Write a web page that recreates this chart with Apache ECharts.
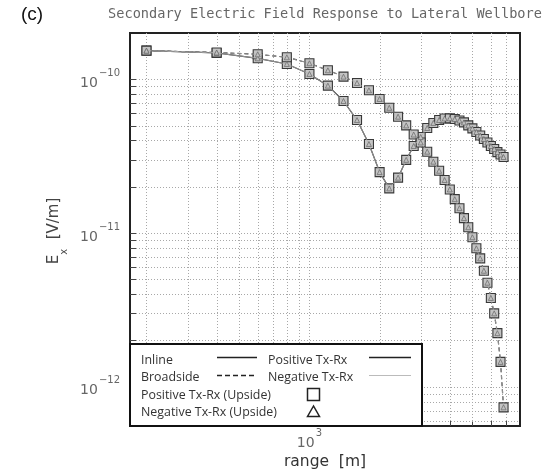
<!DOCTYPE html>
<html>
<head>
<meta charset="utf-8">
<title>Secondary Electric Field Response to Lateral Wellbore</title>
<script src="https://cdn.jsdelivr.net/npm/echarts@6.0.0/dist/echarts.min.js"></script>
<style>
  html, body { margin: 0; padding: 0; background: #fff; }
  #chart { width: 547px; height: 474px; }
</style>
</head>
<body>
<div id="chart"></div>
<script>
// Transmitter-receiver offset (m)
const rangeM = [200, 400, 600, 800, 1000, 1200, 1400, 1600, 1800, 2000,
  2200, 2400, 2600, 2800, 3000, 3200, 3400, 3600, 3800, 4000,
  4200, 4400, 4600, 4800, 5000, 5200, 5400, 5600, 5800, 6000,
  6200, 6400, 6600, 6800];

// Secondary Ex (V/m), inline configuration
const inlinePositive = [1.535e-10, 1.483e-10, 1.369e-10, 1.257e-10, 1.083e-10, 9.09e-11, 7.22e-11, 5.43e-11, 3.79e-11, 2.49e-11,
  1.95e-11, 2.29e-11, 2.99e-11, 3.68e-11, 4.21e-11, 4.82e-11, 5.20e-11, 5.43e-11, 5.56e-11, 5.57e-11,
  5.51e-11, 5.39e-11, 5.24e-11, 5.01e-11, 4.79e-11, 4.54e-11, 4.31e-11, 4.09e-11, 3.88e-11, 3.68e-11,
  3.52e-11, 3.36e-11, 3.24e-11, 3.12e-11];
const inlineNegative = [1.535e-10, 1.483e-10, 1.369e-10, 1.257e-10, 1.083e-10, 9.09e-11, 7.22e-11, 5.43e-11, 3.79e-11, 2.49e-11,
  1.95e-11, 2.29e-11, 2.99e-11, 3.68e-11, 4.21e-11, 4.82e-11, 5.20e-11, 5.43e-11, 5.56e-11, 5.57e-11,
  5.51e-11, 5.39e-11, 5.24e-11, 5.01e-11, 4.79e-11, 4.54e-11, 4.31e-11, 4.09e-11, 3.88e-11, 3.68e-11,
  3.52e-11, 3.36e-11, 3.24e-11, 3.12e-11];

// Secondary Ex (V/m), broadside configuration
const broadsidePositive = [1.535e-10, 1.494e-10, 1.454e-10, 1.390e-10, 1.271e-10, 1.144e-10, 1.040e-10, 9.46e-11, 8.48e-11, 7.44e-11,
  6.52e-11, 5.71e-11, 5.01e-11, 4.37e-11, 3.88e-11, 3.38e-11, 2.91e-11, 2.54e-11, 2.21e-11, 1.92e-11,
  1.66e-11, 1.45e-11, 1.25e-11, 1.09e-11, 9.38e-12, 7.95e-12, 6.84e-12, 5.68e-12, 4.75e-12, 3.78e-12,
  3.00e-12, 2.23e-12, 1.45e-12, 7.34e-13];
const broadsideNegative = [1.535e-10, 1.494e-10, 1.454e-10, 1.390e-10, 1.271e-10, 1.144e-10, 1.040e-10, 9.46e-11, 8.48e-11, 7.44e-11,
  6.52e-11, 5.71e-11, 5.01e-11, 4.37e-11, 3.88e-11, 3.38e-11, 2.91e-11, 2.54e-11, 2.21e-11, 1.92e-11,
  1.66e-11, 1.45e-11, 1.25e-11, 1.09e-11, 9.38e-12, 7.95e-12, 6.84e-12, 5.68e-12, 4.75e-12, 3.78e-12,
  3.00e-12, 2.23e-12, 1.45e-12, 7.34e-13];

// Log-decade grid positions
const gridX = [200, 300, 400, 500, 600, 700, 800, 900, 1000, 2000, 3000, 4000, 5000, 6000, 7000];
const gridY = [1e-10, 9e-11, 8e-11, 7e-11, 6e-11, 5e-11, 4e-11, 3e-11, 2e-11,
  1e-11, 9e-12, 8e-12, 7e-12, 6e-12, 5e-12, 4e-12, 3e-12, 2e-12,
  1e-12, 9e-13, 8e-13, 7e-13, 6e-13];

const X_MIN = 170, X_MAX = 8000;
const Y_MIN = 5.55e-13, Y_MAX = 2e-10;

const pair = (xs, ys) => xs.map((x, i) => [x, ys[i]]);
const px = v => Math.round(v) + 0.5;

function powLabel(v) {
  const e = Math.log10(v);
  const r = Math.round(e);
  if (Math.abs(e - r) > 1e-6) return '';
  return '{b|10}{s|' + (r < 0 ? '\u2212' + (-r) : r) + '}';
}

const labelRich = {
  b: { fontFamily: 'DejaVu Sans', fontSize: 14, color: '#666', lineHeight: 22, verticalAlign: 'bottom' },
  s: { fontFamily: 'DejaVu Sans', fontSize: 10, color: '#666', lineHeight: 22, verticalAlign: 'top', padding: [0, 0, 0, 1] }
};

const chart = echarts.init(document.getElementById('chart'), null, { renderer: 'canvas' });

const markerSquare = {
  symbol: 'rect', symbolSize: 9,
  itemStyle: { color: '#c4c4c4', borderColor: '#383838', borderWidth: 1.1 }
};
const markerTriangle = {
  symbol: 'triangle', symbolSize: 5,
  itemStyle: { color: '#c0c0c0', borderColor: '#666', borderWidth: 0.7 }
};

const legendFont = '12.4px "Open Sans"';
const legendText = (x, y, text) => ({
  type: 'text', x: x, y: y, z: 21,
  style: { text: text, font: legendFont, fill: '#333', verticalAlign: 'middle' }
});
const legendLine = (x1, x2, y, stroke, width, dash) => ({
  type: 'line', z: 21, shape: { x1: x1, y1: y, x2: x2, y2: y },
  style: { stroke: stroke, lineWidth: width, lineDash: dash || null }
});

chart.setOption({
  animation: false,
  backgroundColor: '#fff',
  grid: {
    left: 130, top: 33, right: 27, bottom: 48,
    show: true, borderColor: '#222', borderWidth: 2, backgroundColor: 'transparent'
  },
  xAxis: {
    type: 'log', logBase: 10, min: X_MIN, max: X_MAX,
    axisLine: { show: false }, axisTick: { show: false }, splitLine: { show: false },
    axisLabel: { formatter: powLabel, rich: labelRich, margin: 2, showMinLabel: false, showMaxLabel: false }
  },
  yAxis: {
    type: 'log', logBase: 10, min: Y_MIN, max: Y_MAX,
    axisLine: { show: false }, axisTick: { show: false }, splitLine: { show: false },
    axisLabel: { formatter: powLabel, rich: labelRich, margin: 10, showMinLabel: false, showMaxLabel: false }
  },
  series: [
    {
      // dotted vertical grid with inner ticks on the bottom edge
      type: 'custom', z: 1, silent: true,
      data: gridX.map(v => [v, Y_MIN]),
      encode: { x: 0, y: 1 },
      renderItem: (params, api) => {
        const v = api.value(0);
        const t = api.coord([v, Y_MAX]);
        const b = api.coord([v, Y_MIN]);
        const x = px(t[0]);
        return { type: 'group', children: [
          { type: 'line', shape: { x1: x, y1: t[1], x2: x, y2: b[1] },
            style: { stroke: '#a8a8a8', lineWidth: 1, lineDash: [1, 2] } },
          { type: 'line', shape: { x1: x, y1: b[1], x2: x, y2: b[1] - 5 },
            style: { stroke: '#444', lineWidth: 1 } }
        ]};
      }
    },
    {
      // dotted horizontal grid with inner ticks on the left edge
      type: 'custom', z: 1, silent: true,
      data: gridY.map(v => [X_MIN, v]),
      encode: { x: 0, y: 1 },
      renderItem: (params, api) => {
        const v = api.value(1);
        const l = api.coord([X_MIN, v]);
        const r = api.coord([X_MAX, v]);
        const y = px(l[1]);
        return { type: 'group', children: [
          { type: 'line', shape: { x1: l[0], y1: y, x2: r[0], y2: y },
            style: { stroke: '#a8a8a8', lineWidth: 1, lineDash: [1, 2] } },
          { type: 'line', shape: { x1: l[0], y1: y, x2: l[0] + 6, y2: y },
            style: { stroke: '#444', lineWidth: 1 } }
        ]};
      }
    },
    Object.assign({
      name: 'Inline, Positive Tx-Rx', type: 'line', z: 3,
      data: pair(rangeM, inlinePositive),
      lineStyle: { color: '#222', width: 1.2, type: 'solid' }
    }, markerSquare),
    Object.assign({
      name: 'Broadside, Positive Tx-Rx', type: 'line', z: 3,
      data: pair(rangeM, broadsidePositive),
      lineStyle: { color: '#222', width: 1.2, type: [4, 3] }
    }, markerSquare),
    Object.assign({
      name: 'Inline, Negative Tx-Rx', type: 'line', z: 4,
      data: pair(rangeM, inlineNegative),
      lineStyle: { color: '#b0b0b0', width: 0.8, type: 'solid' }
    }, markerTriangle),
    Object.assign({
      name: 'Broadside, Negative Tx-Rx', type: 'line', z: 4,
      data: pair(rangeM, broadsideNegative),
      lineStyle: { color: '#b0b0b0', width: 0.8, type: [4, 3] }
    }, markerTriangle)
  ],
  graphic: [
    { type: 'text', x: 21, y: 5, z: 10,
      style: { text: '(c)', font: '19px "Liberation Sans"', fill: '#111' } },
    { type: 'text', x: 325, y: 14, z: 10,
      style: { text: 'Secondary Electric Field Response to Lateral Wellbore',
        font: '13.6px "DejaVu Sans Mono"', fill: '#666', align: 'center', verticalAlign: 'middle' } },
    { type: 'text', x: 325, y: 462, z: 10,
      style: { text: 'range  [m]', font: '15.5px "DejaVu Sans"', fill: '#333', align: 'center', verticalAlign: 'middle' } },
    { type: 'text', x: 58, y: 231, rotation: Math.PI / 2, z: 10,
      style: { text: '{e|E}{x|x}{u|  [V/m]}', align: 'center', verticalAlign: 'middle',
        rich: {
          e: { font: '15px "DejaVu Sans"', fill: '#444', lineHeight: 22, verticalAlign: 'top' },
          x: { font: '10px "DejaVu Sans"', fill: '#444', lineHeight: 22, verticalAlign: 'bottom' },
          u: { font: '15px "DejaVu Sans"', fill: '#444', lineHeight: 22, verticalAlign: 'top' }
        } } },
    // legend panel
    { type: 'rect', z: 20, shape: { x: 130, y: 344, width: 292, height: 82 },
      style: { fill: '#fff', stroke: '#111', lineWidth: 2 } },
    legendText(141, 360, 'Inline'),
    legendText(141, 377, 'Broadside'),
    legendText(141, 395, 'Positive Tx-Rx (Upside)'),
    legendText(141, 412, 'Negative Tx-Rx (Upside)'),
    legendText(268, 360, 'Positive Tx-Rx'),
    legendText(268, 377, 'Negative Tx-Rx'),
    legendLine(217, 257, 357.5, '#222', 1.3),
    legendLine(217, 254, 375.5, '#222', 1.3, [5, 3]),
    legendLine(369, 411, 357.5, '#222', 1.3),
    legendLine(369, 411, 375.5, '#bbb', 1),
    { type: 'rect', z: 21, shape: { x: 307.5, y: 388.5, width: 12, height: 12 },
      style: { fill: 'none', stroke: '#222', lineWidth: 1.5 } },
    { type: 'polygon', z: 21, shape: { points: [[313.5, 406], [307.5, 416.5], [319.5, 416.5]] },
      style: { fill: 'none', stroke: '#222', lineWidth: 1.5 } }
  ]
});
</script>
</body>
</html>
